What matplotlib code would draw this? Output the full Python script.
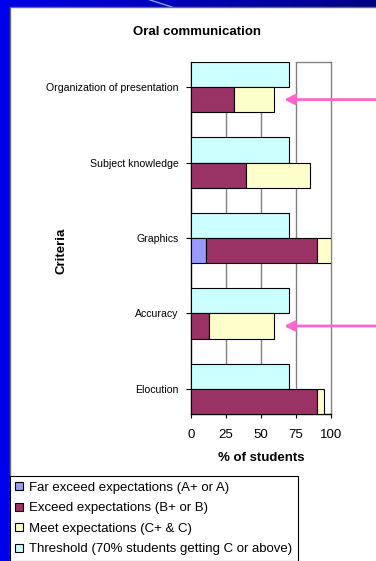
import matplotlib
matplotlib.use("Agg")
import matplotlib.pyplot as plt
from matplotlib.patches import Rectangle, Patch
import numpy as np

plt.rcParams['font.family'] = ['Liberation Sans', 'DejaVu Sans']

# ---- data -------------------------------------------------------------
criteria = ["Organization of presentation", "Subject knowledge", "Graphics",
            "Accuracy", "Elocution"]
far_exceed = [0, 0, 11, 0, 0]      # A+ or A
exceed = [31, 39, 79, 13, 90]      # B+ or B
meet = [28, 46, 10, 46, 5]         # C+ & C
threshold = [70, 70, 70, 70, 70]   # 70% students getting C or above
flagged = ["Organization of presentation", "Accuracy"]

series_labels = ["Far exceed expectations (A+ or A)",
                 "Exceed expectations (B+ or B)",
                 "Meet expectations (C+ & C)",
                 "Threshold (70% students getting C or above)"]
x_ticks = [0, 25, 50, 75, 100]

# ---- styling ----------------------------------------------------------
colors = ["#9999FF", "#993366", "#FFFFCC", "#CCFFFF"]
W, H = 376, 561
fig = plt.figure(figsize=(W / 100, H / 100), dpi=100)

# slide backdrop: blue gradient with a white content panel
bg = fig.add_axes([0, 0, 1, 1], zorder=-10)
xs = np.linspace(0, 1, 300)
blue = 0.93 - 0.42 * xs
img = np.zeros((2, xs.size, 3))
img[..., 2] = blue
bg.imshow(img, aspect='auto', extent=[0, 1, 0, 1])
bg.plot([150 / W, 172 / W], [1, 1 - 7 / H], color='#7F9FFF', lw=1.0)
bg.set_xlim(0, 1)
bg.set_ylim(0, 1)
bg.axis('off')
fig.add_artist(Rectangle((10 / W, -0.01), 1.0, 0.01 + (H - 7) / H,
                         transform=fig.transFigure, facecolor='white',
                         edgecolor='#6E6E6E', lw=1.0, zorder=-5))

# ---- chart ------------------------------------------------------------
ax = fig.add_axes([191 / W, (H - 414) / H, 140 / W, 352 / H])
n = len(criteria)
pos = np.arange(n)[::-1].astype(float)
bh = 0.332
edge = dict(edgecolor='black', linewidth=0.8)

ax.barh(pos + bh / 2, threshold, height=bh, color=colors[3], zorder=3, **edge)
left = np.zeros(n)
for vals, c in zip([far_exceed, exceed, meet], colors[:3]):
    vals = np.asarray(vals, dtype=float)
    ax.barh(pos - bh / 2, vals, left=left, height=bh, color=c, zorder=3,
            **edge)
    left += vals

for v in x_ticks[1:-1]:
    ax.axvline(v, color='#808080', lw=1.0, zorder=1)

ax.set_xlim(0, 100)
ax.set_ylim(-bh, n - 1 + bh)
ax.set_xticks(x_ticks)
ax.set_yticks(pos)
ax.set_yticklabels(criteria)
ax.tick_params(axis='y', length=3.5, width=0.8, pad=5.5, labelsize=7.6)
ax.tick_params(axis='x', length=3, width=0.8, pad=8, labelsize=9.5)
for s in ['left', 'bottom']:
    ax.spines[s].set_color('black')
    ax.spines[s].set_linewidth(1.0)
for s in ['top', 'right']:
    ax.spines[s].set_color('#808080')
    ax.spines[s].set_linewidth(1.0)
ax.spines['top'].set_bounds(75, 100)

ax.set_xlabel("% of students", fontsize=9.5, fontweight='bold')
ax.xaxis.set_label_coords(0.5, -0.108)
ax.set_ylabel("Criteria", fontsize=9.5, fontweight='bold')
ax.yaxis.set_label_coords(-0.879, 0.463)

# arrows pointing at the criteria below threshold
for name in flagged:
    i = criteria.index(name)
    total = far_exceed[i] + exceed[i] + meet[i]
    yc = pos[i] - bh / 2
    ax.annotate("", xy=(total + 7.5, yc), xytext=(140, yc),
                annotation_clip=False,
                arrowprops=dict(arrowstyle='-|>,head_length=0.6,head_width=0.3',
                                color='#FF66CC', lw=2, mutation_scale=10,
                                shrinkA=0, shrinkB=0))

fig.text(197 / W, 1 - 32 / H, "Oral communication", ha='center',
         va='center', fontsize=9.5, fontweight='bold')

handles = [Patch(facecolor=c, edgecolor='black', linewidth=0.8) for c in colors]
leg = fig.legend(handles, series_labels, loc='upper left',
                 bbox_to_anchor=(9.5 / W, 1 - 476 / H), borderaxespad=0,
                 fontsize=9.5, handlelength=0.55, handleheight=0.55,
                 handletextpad=0.45, labelspacing=0.64, borderpad=0.45,
                 fancybox=False, framealpha=1, edgecolor='black')
leg.get_frame().set_linewidth(0.8)

fig.savefig("out.png", dpi=100)
